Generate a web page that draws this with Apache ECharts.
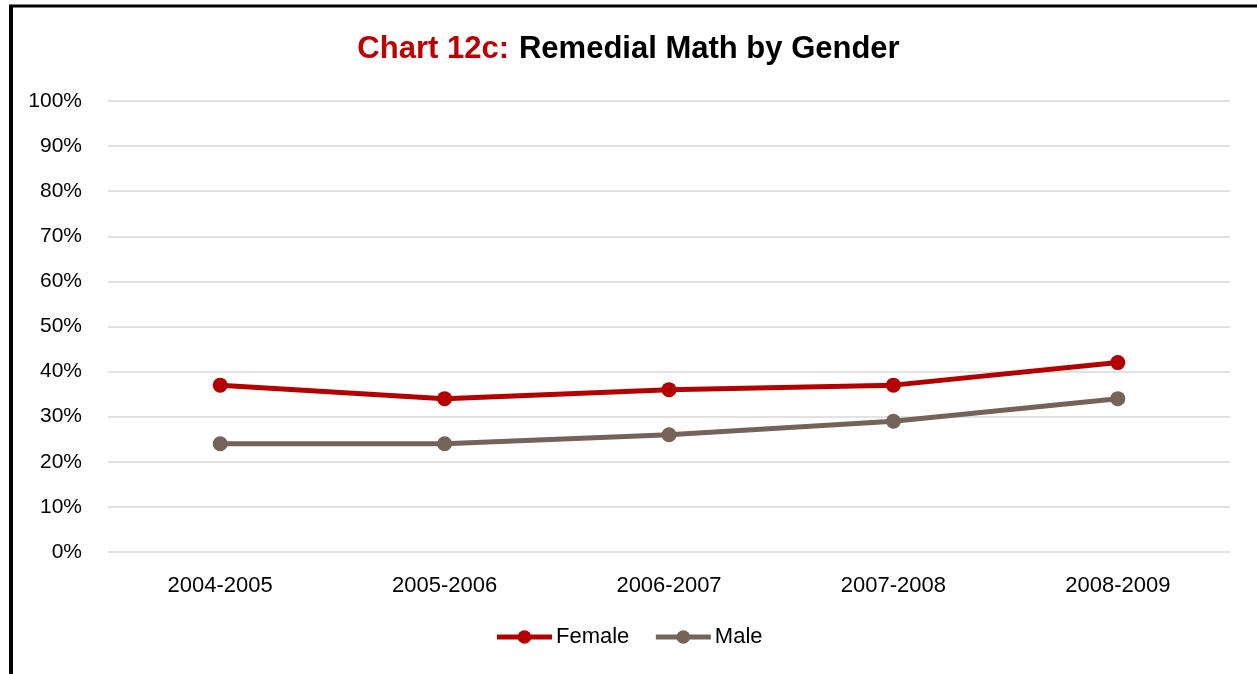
<!DOCTYPE html>
<html>
<head>
<meta charset="utf-8">
<script src="https://cdn.jsdelivr.net/npm/echarts@6/dist/echarts.min.js"></script>
<style>
    html, body { margin: 0; padding: 0; background: #fff; }
    #chart { width: 1257px; height: 674px; }
</style>
</head>
<body>
<div id="chart"></div>
<script type="text/javascript">
    var years = ['2004-2005', '2005-2006', '2006-2007', '2007-2008', '2008-2009'];
    var female = [37, 34, 36, 37, 42];
    var male = [24, 24, 26, 29, 34];
    var yTicks = [0, 10, 20, 30, 40, 50, 60, 70, 80, 90, 100];

    var font = '"Liberation Sans Narrow", "Liberation Sans", Arial, sans-serif';

    var option = {
        animation: false,
        textStyle: { fontFamily: font },
        title: {
            text: '{a|Chart 12c:}  {b|Remedial Math by Gender}',
            left: 'center',
            top: 29,
            textStyle: {
                rich: {
                    a: { color: '#C00000', fontSize: 31, fontWeight: 'bold', fontFamily: font },
                    b: { color: '#000', fontSize: 31, fontWeight: 'bold', fontFamily: font }
                }
            }
        },
        graphic: [
            { type: 'line', shape: { x1: 9, y1: 6, x2: 1257, y2: 6 }, style: { stroke: '#000', lineWidth: 3 } },
            { type: 'line', shape: { x1: 11, y1: 5, x2: 11, y2: 674 }, style: { stroke: '#000', lineWidth: 4 } }
        ],
        legend: {
            bottom: 21,
            left: 'center',
            itemWidth: 55,
            itemHeight: 17,
            itemGap: 24,
            lineStyle: { width: 5 },
            textStyle: { fontSize: 22, color: '#000', fontFamily: font, padding: [0, 0, 0, -1] },
            data: ['Female', 'Male']
        },
        grid: { left: 108, right: 27, top: 101, bottom: 122 },
        xAxis: {
            type: 'category',
            data: years,
            boundaryGap: true,
            axisLine: { show: false },
            axisTick: { show: false },
            axisLabel: { color: '#000', fontSize: 22, margin: 23 }
        },
        yAxis: {
            type: 'value',
            min: yTicks[0],
            max: yTicks[yTicks.length - 1],
            interval: yTicks[1] - yTicks[0],
            axisLine: { show: false },
            axisTick: { show: false },
            axisLabel: { color: '#000', fontSize: 21, margin: 26, formatter: '{value}%' },
            splitLine: { lineStyle: { color: '#D9D9D9', width: 1.5 } }
        },
        series: [
            {
                name: 'Female',
                type: 'line',
                data: female,
                symbol: 'circle',
                symbolSize: 15,
                color: '#B50000',
                lineStyle: { width: 5 }
            },
            {
                name: 'Male',
                type: 'line',
                data: male,
                symbol: 'circle',
                symbolSize: 15,
                color: '#75635A',
                lineStyle: { width: 5 }
            }
        ]
    };

    var chart = echarts.init(document.getElementById('chart'));
    chart.setOption(option);
</script>
</body>
</html>
